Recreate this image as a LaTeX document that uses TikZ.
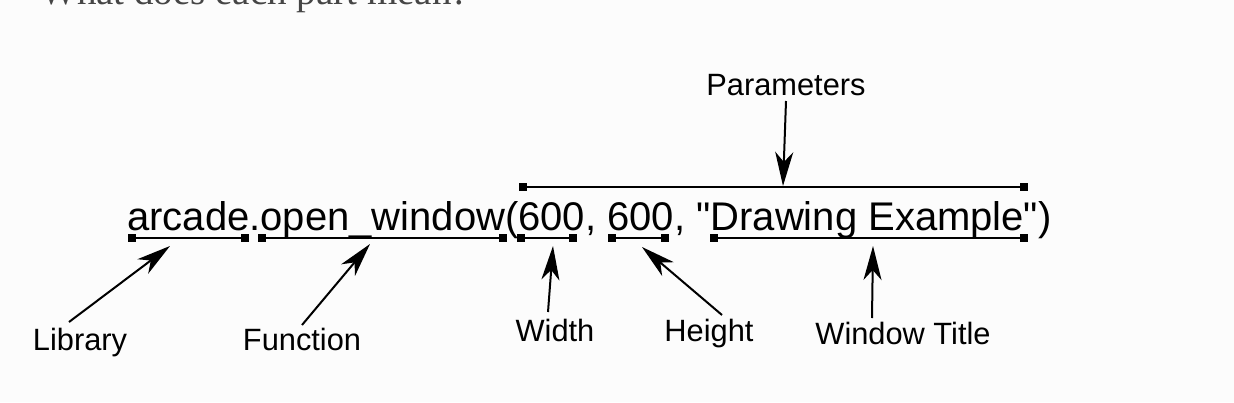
\documentclass[tikz,border=0pt]{standalone}
\usepackage{fontspec}
\setmainfont{Liberation Sans}
\newfontfamily\codefont{Liberation Sans}
\newfontfamily\headserif{Liberation Serif}
\usetikzlibrary{arrows.meta}
\definecolor{bgc}{RGB}{252,252,252}
\definecolor{headc}{RGB}{70,70,70}
\begin{document}
\begin{tikzpicture}[x=1pt,y=-1pt,
  lbl/.style={inner sep=0pt,anchor=base,font=\fontsize{30.8}{36}\selectfont},
  codetxt/.style={inner sep=0pt,anchor=base west,font=\codefont\fontsize{40}{48}\selectfont},
  bar/.style={line width=2pt,black},
  pointer/.style={line width=2pt,black,-{Stealth[length=34pt,width=18pt,inset=10pt]}},
  mk/.style={fill=black}
]
\useasboundingbox[fill=bgc] (0,0) rectangle (1234,402);
% clipped heading
\node[inner sep=0pt,anchor=base west,text=headc,font=\headserif\fontsize{39}{44}\selectfont] (head) at (40,4) {What does each part mean?};
% code line
\node[codetxt] (code) at (127,230) {arcade.open\_window(600, 600, "Drawing Example")};
% bracket coordinates
\coordinate (libA) at (132,238);  \coordinate (libB) at (245,238);
\coordinate (funA) at (262,238);  \coordinate (funB) at (503,238);
\coordinate (wA) at (521,238);    \coordinate (wB) at (573,238);
\coordinate (hA) at (612,238);    \coordinate (hB) at (665,238);
\coordinate (tA) at (714,238);    \coordinate (tB) at (1024,238);
\coordinate (pA) at (523,187);    \coordinate (pB) at (1024,187);
\foreach \a/\b in {libA/libB,funA/funB,wA/wB,hA/hB,tA/tB,pA/pB}{
  \draw[bar] (\a) -- (\b);
  \fill[mk] (\a) ++(-4,-4) rectangle ++(8,8);
  \fill[mk] (\b) ++(-4,-4) rectangle ++(8,8);
}
% labels
\node[lbl] (lLib) at (80,350) {Library};
\node[lbl] (lFun) at (302,350) {Function};
\node[lbl] (lW) at (555,341) {Width};
\node[lbl] (lH) at (709,341) {Height};
\node[lbl] (lT) at (903,344) {Window Title};
\node[lbl] (lP) at (786,95) {Parameters};
% arrow ends
\coordinate (libT) at (69,322);  \coordinate (libH) at (170,246);
\coordinate (funT) at (302,325); \coordinate (funH) at (370,244);
\coordinate (wT) at (548,312);   \coordinate (wH) at (553,246);
\coordinate (hT) at (722,315);   \coordinate (hH) at (642,247);
\coordinate (tT) at (872,318);   \coordinate (tH) at (873,246);
\coordinate (pT) at (786,101);   \coordinate (pH) at (783,186);
\draw[pointer] (libT) -- (libH);
\draw[pointer] (funT) -- (funH);
\draw[pointer] (wT) -- (wH);
\draw[pointer] (hT) -- (hH);
\draw[pointer] (tT) -- (tH);
\draw[pointer] (pT) -- (pH);
\end{tikzpicture}
\end{document}
